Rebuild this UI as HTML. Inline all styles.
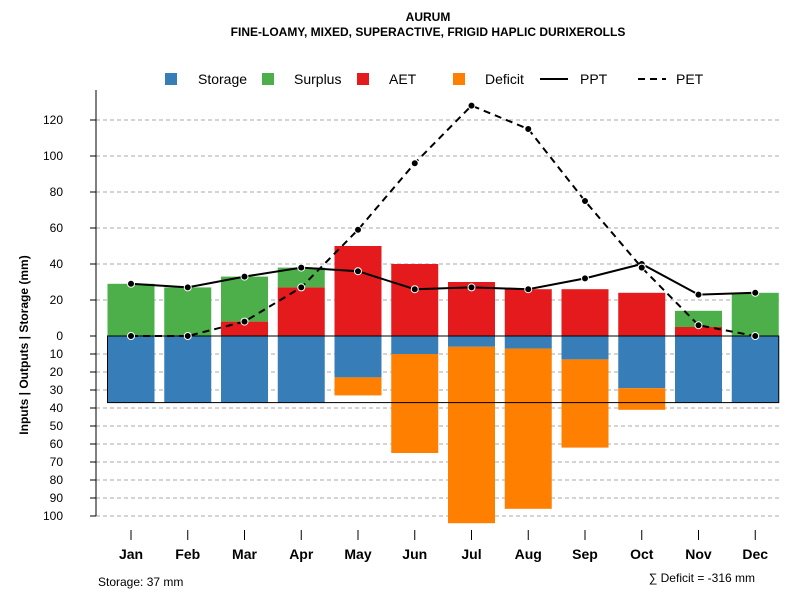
<!DOCTYPE html>
<html><head><meta charset="utf-8"><style>
body{margin:0;background:#fff}
svg{font-family:"Liberation Sans",sans-serif}
</style></head><body>
<svg id="c" width="800" height="600">
<text x="428" y="21" text-anchor="middle" font-size="12" font-weight="bold">AURUM</text>
<text x="428" y="36" text-anchor="middle" font-size="12" font-weight="bold">FINE-LOAMY, MIXED, SUPERACTIVE, FRIGID HAPLIC DURIXEROLLS</text>
<g id="legend" font-size="14">
<rect x="165" y="73" width="12" height="12" fill="#377eb8"/><text x="198" y="84">Storage</text>
<rect x="262" y="73" width="12" height="12" fill="#4daf4a"/><text x="294" y="84">Surplus</text>
<rect x="357" y="73" width="12" height="12" fill="#e41a1c"/><text x="389" y="84">AET</text>
<rect x="453" y="73" width="12" height="12" fill="#ff7f00"/><text x="485" y="84">Deficit</text>
<line x1="540" y1="79" x2="568" y2="79" stroke="#000" stroke-width="2"/><text x="580" y="84">PPT</text>
<line x1="638" y1="79" x2="666" y2="79" stroke="#000" stroke-width="2" stroke-dasharray="7,5"/><text x="676" y="84">PET</text>
</g>
<text transform="translate(28,345) rotate(-90)" text-anchor="middle" font-size="12" font-weight="bold">Inputs | Outputs | Storage     (mm)</text>
<text x="98" y="586" font-size="12">Storage: 37 mm</text>
<text x="755" y="582" text-anchor="end" font-size="12">∑ Deficit = -316 mm</text>
</svg>
<script>
const months=["Jan","Feb","Mar","Apr","May","Jun","Jul","Aug","Sep","Oct","Nov","Dec"];
const aet=[0,0,8,27,50,40,30,26,26,24,5,0];
const surplus=[29,27,25,11,0,0,0,0,0,0,9,24];
const storage=[37,37,37,37,23,10,6,7,13,29,37,37];
const deficit=[0,0,0,0,10,55,98,89,49,12,0,0];
const ppt=[29,27,33,38,36,26,27,26,32,40,23,24];
const pet=[0,0,8,27,59,96,128,115,75,38,6,0];
const posTicks=[0,20,40,60,80,100,120];
const negTicks=[10,20,30,40,50,60,70,80,90,100];
const maxStorage=37;

const NS="http://www.w3.org/2000/svg";
const svg=document.getElementById('c');
const y=v=>336-v*1.8;
const x=i=>131+i*56.75;
const bw=47;
function mk(tag,attrs,parent){const e=document.createElementNS(NS,tag);for(const k in attrs)e.setAttribute(k,attrs[k]);(parent||svg).appendChild(e);return e;}
const grid=mk('g',{});


const ax=mk('g',{'font-size':12});


mk('line',{x1:96,y1:90,x2:96,y2:516,stroke:'#000'},ax);
posTicks.forEach(t=>{
  if(t>0){const g=mk('line',{x1:96,x2:780,y1:y(t),y2:y(t),stroke:'#aaa','stroke-dasharray':'4,3'},grid);}
  mk('line',{x1:90,x2:96,y1:y(t),y2:y(t),stroke:'#000'},ax);
  const l=mk('text',{x:63,y:y(t)+4,'text-anchor':'end'},ax);l.textContent=t;
  
  
});
negTicks.forEach(t=>{
  const g=mk('line',{x1:96,x2:780,y1:y(-t),y2:y(-t),stroke:'#aaa','stroke-dasharray':'4,3'},grid);
  
  
  mk('line',{x1:90,x2:96,y1:y(-t),y2:y(-t),stroke:'#000'},ax);
  const l=mk('text',{x:63,y:y(-t)+4,'text-anchor':'end'},ax);l.textContent=t;
  
  
});
const bars=mk('g',{});


months.forEach((m,i)=>{
  const cx=x(i),l=cx-bw/2;
  const r1=mk('rect',{x:l,y:y(storage[i]*-1)-storage[i]*1.8*0+0,width:bw,height:0,fill:'#377eb8'},bars);
  r1.setAttribute('y',y(0));r1.setAttribute('height',storage[i]*1.8);
  
  
  const r2=mk('rect',{x:l,y:y(-storage[i]),width:bw,height:deficit[i]*1.8,fill:'#ff7f00'},bars);
  
  
  const r3=mk('rect',{x:l,y:y(aet[i]),width:bw,height:aet[i]*1.8,fill:'#e41a1c'},bars);
  
  
  const r4=mk('rect',{x:l,y:y(aet[i]+surplus[i]),width:bw,height:surplus[i]*1.8,fill:'#4daf4a'},bars);
  
  
  mk('line',{x1:cx,x2:cx,y1:530,y2:540,stroke:'#000'},ax);
  const t=mk('text',{x:cx,y:559,'text-anchor':'middle','font-weight':'bold','font-size':14},ax);t.textContent=m;
  
  
});
const box=mk('rect',{x:x(0)-bw/2,y:y(0),width:x(11)-x(0)+bw,height:maxStorage*1.8,fill:'none',stroke:'#000'});


function series(vals,dash,name){
  const p=mk('polyline',{points:vals.map((v,i)=>x(i)+','+y(v)).join(' '),fill:'none',stroke:'#000','stroke-width':2,'stroke-dasharray':dash});
  
  
  vals.forEach((v,i)=>{const c=mk('circle',{cx:x(i),cy:y(v),r:3.5,fill:'#000',stroke:'#fff','stroke-width':1});
    
    });
}
series(ppt,'none','ppt');
series(pet,'7,5','pet');
</script>
</body></html>
